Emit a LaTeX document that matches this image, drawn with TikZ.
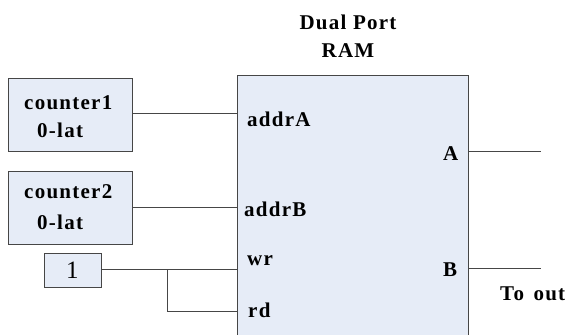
\documentclass[tikz,border=0pt]{standalone}
\usepackage{fontspec}
\setmainfont{Liberation Serif}
\newfontfamily\spfont[LetterSpace=6]{Liberation Serif}
\definecolor{boxfill}{RGB}{230,236,247}
\definecolor{linec}{RGB}{70,70,70}
\begin{document}
\begin{tikzpicture}[x=1pt,y=-1pt,
  blk/.style={draw=linec,fill=boxfill,line width=0.9pt},
  wire/.style={draw=linec,line width=0.9pt},
  lbl/.style={font=\spfont\fontsize{21}{24}\selectfont\bfseries,inner sep=0pt,anchor=base west}]
\useasboundingbox (0,0) rectangle (574,335);
% RAM
\path[blk] (237,75) rectangle (468,340);
\node[lbl,anchor=base] (title1) at (348,29) {Dual Port};
\node[lbl,anchor=base] (title2) at (348,57) {RAM};
% counters
\node[blk,minimum width=124,minimum height=73,inner sep=0pt] (c1) at (70,114.5) {};
\node[lbl] (c1a) at (24,109) {counter1};
\node[lbl] (c1b) at (37,137) {0-lat};
\node[blk,minimum width=124,minimum height=73,inner sep=0pt] (c2) at (70,207.5) {};
\node[lbl] (c2a) at (24,198) {counter2};
\node[lbl] (c2b) at (37,229) {0-lat};
\node[blk,minimum width=57,minimum height=34,inner sep=0pt,font=\fontsize{25}{27}\selectfont] (one) at (72.5,270) {1};
% ports
\coordinate (pA) at (237,113);
\coordinate (pB) at (237,207);
\coordinate (pwr) at (237,269);
\coordinate (prd) at (237,311);
\coordinate (jn) at (167,269);
\coordinate (oA) at (468,151);
\coordinate (oB) at (468,268);
\coordinate (eA) at (541,151);
\coordinate (eB) at (541,268);
\node[lbl] (laA) at (247,126) {addrA};
\node[lbl] (laB) at (244,216) {addrB};
\node[lbl] (lwr) at (247,265) {wr};
\node[lbl] (lrd) at (248,317) {rd};
\node[lbl] (lA) at (443,160) {A};
\node[lbl] (lB) at (443,276) {B};
\node[lbl] (lout) at (500,300) {To\hspace{3pt} out};
% wires
\draw[wire] (c1.east |- pA) -- (pA);
\draw[wire] (c2.east |- pB) -- (pB);
\draw[wire] (one.east |- pwr) -- (pwr);
\draw[wire] (jn) |- (prd);
\draw[wire] (oA) -- (eA);
\draw[wire] (oB) -- (eB);
\end{tikzpicture}
\end{document}
